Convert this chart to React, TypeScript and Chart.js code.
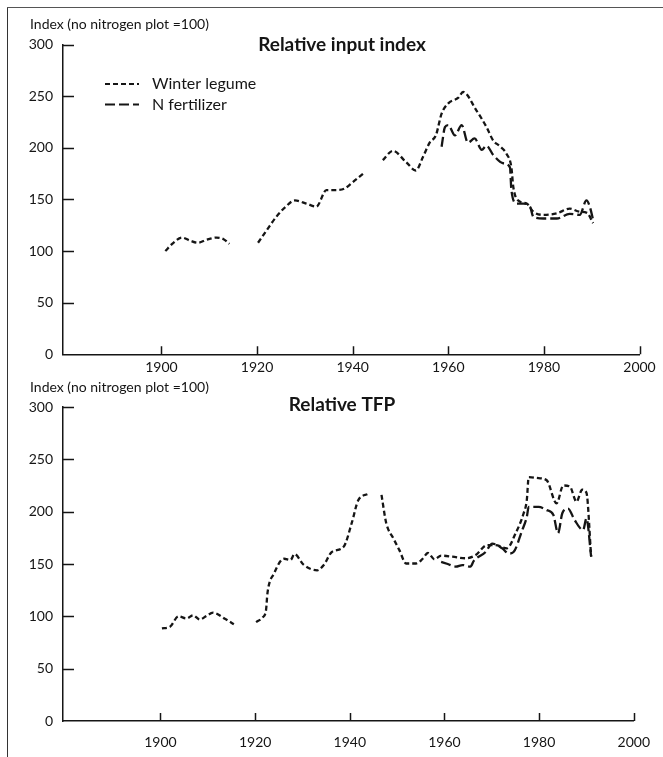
import React, { useEffect, useRef } from "react";
import { Chart, registerables } from "chart.js";

Chart.register(...registerables);

// ---------- axes ----------
const yearTicks = [1900, 1920, 1940, 1960, 1980, 2000];
const valueTicks = [0, 50, 100, 150, 200, 250, 300];
const seriesNames = ["Winter legume", "N fertilizer"];

// ---------- Relative input index ----------
const inputLegumeYears = [
  1900.8, 1902.5, 1904.3, 1906, 1907.6, 1909.5, 1911.5, 1913, 1914.2,
  1917,
  1920.2, 1922, 1924, 1926, 1927.9, 1930.3, 1932.4, 1934.5, 1936.2, 1938.3, 1940.1, 1942.2,
  1944,
  1946.3, 1948.4, 1951.2, 1953.2, 1954.7, 1956.1, 1957.4, 1958.6, 1960, 1962.1, 1963.1,
  1965.9, 1968, 1969.4, 1970.8, 1972.2, 1973.2, 1973.6, 1974.6, 1976.4, 1977.8, 1979.9,
  1982.7, 1985.4, 1987.5, 1989, 1990.3,
];
const inputLegumeValues = [
  100, 108, 113, 110, 108, 111, 113, 111.5, 107,
  null,
  108, 120, 133, 143, 149, 146, 143, 159, 159, 160.5, 167, 175,
  null,
  188, 197, 186, 178, 191, 205, 212, 233, 243, 248.5, 254,
  236, 220, 207, 201.5, 194, 181, 162, 149, 146, 138, 135,
  136.5, 141, 138, 137, 127,
];

const inputFertYears = [
  1958.6, 1959.3, 1960, 1961.4, 1962.8, 1964.1, 1965.5, 1967, 1968, 1969.4, 1971.5,
  1972.9, 1973.2, 1974.3, 1975.7, 1977.1, 1977.8, 1979.9, 1982.7, 1985.4, 1987.5,
  1988.9, 1989.6, 1990.3,
];
const inputFertValues = [
  201, 220, 222, 212, 222, 205, 209, 198, 202, 193, 185,
  181, 159, 146, 146, 143, 133, 131.5, 131.5, 136, 135,
  149, 143, 130,
];

// ---------- Relative TFP ----------
const tfpLegumeYears = [
  1900.3, 1902, 1903.8, 1905.5, 1906.9, 1908.3, 1909.6, 1911.1, 1913.5, 1915.5,
  1918,
  1920.2, 1921.6, 1922.3, 1922.6, 1924, 1926.1, 1927.5, 1928.3, 1930.3, 1933.1, 1934.5,
  1936.2, 1938.7, 1940.4, 1941.8, 1943.9,
  1945.5,
  1946.7, 1947.7, 1949.2, 1950.5, 1951.9, 1954, 1955.4, 1956.5, 1957.9, 1959.3, 1961.7,
  1964.5, 1966.6, 1969, 1970.8, 1973.2, 1975, 1976.7, 1977.4, 1977.8, 1979.9, 1981.6,
  1983.7, 1985.1, 1986.5, 1987.9, 1989.1, 1990, 1991,
];
const tfpLegumeValues = [
  88.5, 90, 100, 98, 101, 97, 100, 103.5, 98, 92.5,
  null,
  94.5, 99, 106, 122, 141, 155, 154, 159.5, 149, 144, 149,
  161.5, 166.5, 189, 211, 217,
  null,
  216, 189, 174.5, 163, 150.5, 150.5, 155, 160.5, 154.5, 158, 157,
  155.5, 158.5, 168, 168, 165, 179, 198, 211, 233, 232, 230,
  208, 225, 224, 209.5, 221, 218, 157,
];

const tfpFertYears = [
  1959.3, 1960.7, 1962.4, 1963.8, 1965.5, 1966.2, 1968.7, 1970.1, 1972.2, 1973.6,
  1974.6, 1976.4, 1977.4, 1977.8, 1979.9, 1981.6, 1983, 1984, 1984.9, 1986.1, 1987.5,
  1989.3, 1990, 1991,
];
const tfpFertValues = [
  152, 150, 147.5, 149, 147.5, 153, 161.5, 169.5, 165, 160,
  161.5, 182, 195, 204.5, 204.5, 201.5, 197, 179.5, 198.5, 203, 192,
  182.5, 193.5, 157,
];

const toPoints = (xs: number[], ys: (number | null)[]) =>
  xs.map((x, i) => ({ x, y: ys[i] }));

const FONT = "Lato, 'Open Sans', sans-serif";
const INK = "#151515";

const decorPlugin = {
  id: "decor",
  afterDraw(chart: any, _args: any, o: any) {
    const { ctx } = chart;
    const xs = chart.scales.x;
    const ys = chart.scales.y;
    ctx.save();
    // inward tick marks
    ctx.strokeStyle = INK;
    ctx.lineWidth = 1.5;
    ctx.setLineDash([]);
    ctx.beginPath();
    for (const v of valueTicks) {
      if (v === 0) continue;
      const py = Math.round(ys.getPixelForValue(v)) + 0.5;
      ctx.moveTo(xs.left, py);
      ctx.lineTo(xs.left + 11, py);
    }
    for (const yr of yearTicks) {
      const px = Math.round(xs.getPixelForValue(yr)) + 0.5;
      ctx.moveTo(px, ys.bottom);
      ctx.lineTo(px, ys.bottom - 8);
    }
    ctx.stroke();

    ctx.fillStyle = INK;
    ctx.textBaseline = "middle";
    // axis caption
    ctx.textAlign = "left";
    ctx.font = `14px ${FONT}`;
    ctx.fillText(o.caption, o.captionX, o.captionY);
    // title
    ctx.textAlign = "center";
    ctx.font = `bold 19px ${FONT}`;
    ctx.fillText(o.title, o.titleX, o.titleY);
    // legend
    if (o.legend) {
      ctx.textAlign = "left";
      ctx.font = `16px ${FONT}`;
      chart.data.datasets.forEach((ds: any, i: number) => {
        const ly = o.legendY + i * 20.5;
        ctx.save();
        ctx.strokeStyle = ds.borderColor;
        ctx.lineWidth = 2;
        ctx.setLineDash(ds.borderDash || []);
        ctx.beginPath();
        ctx.moveTo(o.legendX, ly);
        ctx.lineTo(o.legendX + 34, ly);
        ctx.stroke();
        ctx.restore();
        ctx.fillText(ds.label, o.legendX + 47, ly);
      });
    }
    ctx.restore();
  },
};

function makeConfig(p: any) {
  return {
    type: "line",
    data: {
      datasets: [
        {
          label: seriesNames[0],
          data: toPoints(p.legumeYears, p.legumeValues),
          borderColor: INK,
          borderWidth: 2.3,
          borderDash: [5, 3],
          pointRadius: 0,
          fill: false,
          spanGaps: false,
          cubicInterpolationMode: "monotone",
        },
        {
          label: seriesNames[1],
          data: toPoints(p.fertYears, p.fertValues),
          borderColor: INK,
          borderWidth: 2.3,
          borderDash: [10, 4],
          pointRadius: 0,
          fill: false,
          spanGaps: false,
          cubicInterpolationMode: "monotone",
        },
      ],
    },
    options: {
      responsive: false,
      animation: false,
      events: [],
      layout: { padding: { left: 0, right: 23.5, top: p.padTop, bottom: p.padBottom } },
      scales: {
        x: {
          type: "linear",
          min: 1879.4,
          max: 2000,
          afterBuildTicks: (s: any) => {
            s.ticks = yearTicks.map((v) => ({ value: v }));
          },
          afterFit: (s: any) => {
            s.height = p.xAxisHeight;
          },
          grid: { display: false, drawTicks: false },
          border: { display: true, color: INK, width: 1.5 },
          ticks: {
            color: INK,
            padding: p.xLabelPad,
            maxRotation: 0,
            autoSkip: false,
            font: { family: FONT, size: 14 },
            callback: (v: any) => String(v),
          },
        },
        y: {
          type: "linear",
          min: 0,
          max: 300,
          afterBuildTicks: (s: any) => {
            s.ticks = valueTicks.map((v) => ({ value: v }));
          },
          afterFit: (s: any) => {
            s.width = 63;
          },
          grid: { display: false, drawTicks: false },
          border: { display: true, color: INK, width: 1.5 },
          ticks: {
            color: INK,
            padding: 10,
            font: { family: FONT, size: 14 },
            callback: (v: any) => String(v),
          },
        },
      },
      plugins: {
        legend: { display: false },
        tooltip: { enabled: false },
        decor: {
          caption: "Index (no nitrogen plot =100)",
          captionX: 30,
          captionY: p.captionY,
          title: p.title,
          titleX: 342,
          titleY: p.titleY,
          legend: p.legend,
          legendX: 105,
          legendY: 84,
        },
      },
    },
    plugins: [decorPlugin],
  } as any;
}

function ChartCanvas(props: { config: any; top: number; height: number }) {
  const ref = useRef<HTMLCanvasElement | null>(null);
  useEffect(() => {
    if (!ref.current) return;
    const chart = new Chart(ref.current, props.config);
    return () => chart.destroy();
  }, []);
  return (
    <canvas
      ref={ref}
      width={663}
      height={props.height}
      style={{ position: "absolute", left: 0, top: props.top, width: 663, height: props.height }}
    />
  );
}

export default function App() {
  const topConfig = makeConfig({
    legumeYears: inputLegumeYears,
    legumeValues: inputLegumeValues,
    fertYears: inputFertYears,
    fertValues: inputFertValues,
    padTop: 44.5,
    padBottom: 3.7,
    xAxisHeight: 20,
    xLabelPad: 5,
    captionY: 24,
    title: "Relative input index",
    titleY: 45,
    legend: true,
  });
  const bottomConfig = makeConfig({
    legumeYears: tfpLegumeYears,
    legumeValues: tfpLegumeValues,
    fertYears: tfpFertYears,
    fertValues: tfpFertValues,
    padTop: 29,
    padBottom: 6,
    xAxisHeight: 30,
    xLabelPad: 13,
    captionY: 9,
    title: "Relative TFP",
    titleY: 27,
    legend: false,
  });
  return (
    <div
      style={{
        position: "absolute",
        left: 0,
        top: 0,
        width: 663,
        height: 757,
        background: "#fff",
        overflow: "hidden",
        fontFamily: FONT,
      }}
    >
      <ChartCanvas config={topConfig} top={0} height={378} />
      <ChartCanvas config={bottomConfig} top={378} height={379} />
      <div style={{ position: "absolute", left: 7, top: 7, width: 1, height: 750, background: "#333" }} />
      <div style={{ position: "absolute", left: 7, top: 7, width: 656, height: 1, background: "#555" }} />
    </div>
  );
}
